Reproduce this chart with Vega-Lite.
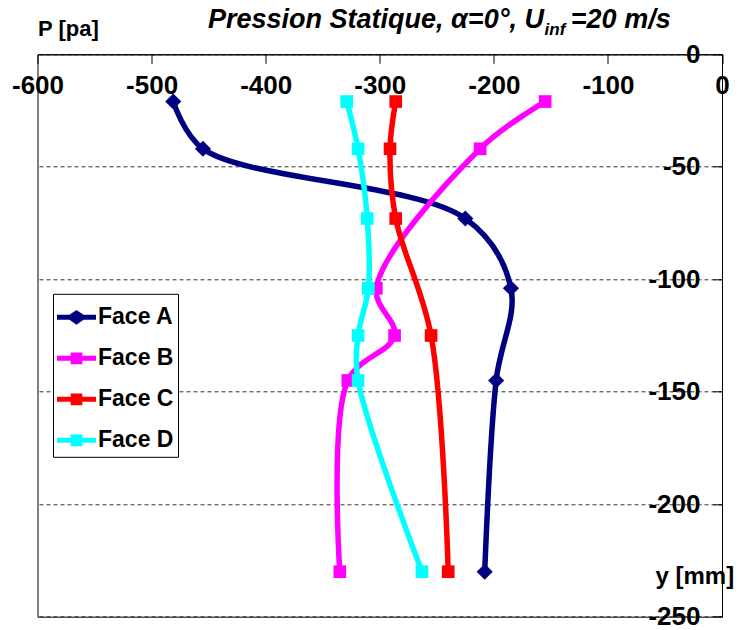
{
  "$schema": "https://vega.github.io/schema/vega-lite/v6.json",
  "width": 684.5,
  "height": 562.4,
  "autosize": {"type": "none"},
  "padding": {"left": 37.5, "top": 54.3, "right": 18, "bottom": 13.3},
  "background": "white",
  "config": {"view": {"stroke": "black", "strokeWidth": 1}, "font": "Liberation Sans"},
  "data": {"values": [
    {"face": "Face A", "y": -21, "p": -481},
    {"face": "Face A", "y": -42, "p": -455},
    {"face": "Face A", "y": -73, "p": -225},
    {"face": "Face A", "y": -104, "p": -185},
    {"face": "Face A", "y": -145, "p": -198},
    {"face": "Face A", "y": -230, "p": -208},
    {"face": "Face B", "y": -21, "p": -155},
    {"face": "Face B", "y": -42, "p": -212},
    {"face": "Face B", "y": -104, "p": -303},
    {"face": "Face B", "y": -125, "p": -287},
    {"face": "Face B", "y": -145, "p": -328},
    {"face": "Face B", "y": -230, "p": -335},
    {"face": "Face C", "y": -21, "p": -286},
    {"face": "Face C", "y": -42, "p": -291},
    {"face": "Face C", "y": -73, "p": -286},
    {"face": "Face C", "y": -125, "p": -255},
    {"face": "Face C", "y": -230, "p": -240},
    {"face": "Face D", "y": -21, "p": -329},
    {"face": "Face D", "y": -42, "p": -319},
    {"face": "Face D", "y": -73, "p": -311},
    {"face": "Face D", "y": -104, "p": -310},
    {"face": "Face D", "y": -125, "p": -319},
    {"face": "Face D", "y": -145, "p": -319},
    {"face": "Face D", "y": -230, "p": -263}
  ]},
  "layer": [
    {
      "mark": {"type": "line", "interpolate": "catmull-rom", "strokeWidth": 5.5},
      "encoding": {
        "x": {"field": "p", "type": "quantitative", "scale": {"domain": [-600, 0], "nice": false, "zero": false},
          "axis": {"orient": "top", "values": [-600, -500, -400, -300, -200, -100, 0], "labelExpr": "'' + datum.value",
            "title": "P [pa]", "titleX": 0, "titleY": -19, "titleAlign": "left", "titleAnchor": null, "titleBaseline": "alphabetic",
            "titleFontSize": 22, "titleFontWeight": "bold", "titleColor": "black", "titleFont": "Liberation Sans",
            "labelFontSize": 26, "labelFontWeight": "bold", "labelColor": "black", "labelFont": "Liberation Sans",
            "labelFlush": false, "labelOverlap": false, "labelPadding": -22, "labelBaseline": "middle",
            "tickSize": -9, "tickColor": "black", "domainColor": "black", "grid": false}},
        "y": {"field": "y", "type": "quantitative", "scale": {"domain": [-250, 0], "nice": false, "zero": false},
          "axis": {"orient": "right", "values": [0, -50, -100, -150, -200, -250], "labelExpr": "'' + datum.value",
            "title": "y [mm]", "titleX": -67, "titleY": 529, "titleAngle": 0, "titleAlign": "left", "titleBaseline": "alphabetic",
            "titleFontSize": 24, "titleFontWeight": "bold", "titleColor": "black", "titleFont": "Liberation Sans",
            "labelFontSize": 26, "labelFontWeight": "bold", "labelColor": "black", "labelFont": "Liberation Sans",
            "labelAlign": "right", "labelBaseline": "middle", "labelPadding": -13, "labelFlush": false, "labelOverlap": false,
            "tickSize": -9, "tickColor": "black", "domainColor": "black",
            "grid": true, "gridDash": [4, 3], "gridColor": "#333", "gridWidth": 1}},
        "color": {"field": "face", "type": "nominal",
          "scale": {"domain": ["Face A", "Face B", "Face C", "Face D"], "range": ["#000080", "#FF00FF", "#FF0000", "#00FFFF"]},
          "legend": {"orient": "none", "legendX": 15.5, "legendY": 239.5, "title": null, "padding": 4, "rowPadding": 9,
            "strokeColor": "black", "fillColor": "white", "labelFontSize": 23, "labelFontWeight": "bold", "labelColor": "black",
            "labelFont": "Liberation Sans", "labelOffset": 2, "labelLimit": 300, "symbolSize": 1521,
            "encode": {"symbols": {"update": {
              "shape": {"signal": "datum.value === 'Face A' ? 'M-1,-0.13H-0.36L0,-0.38L0.36,-0.13H1V0.13H0.36L0,0.38L-0.36,0.13H-1Z' : 'M-1,-0.13H-0.3V-0.3H0.3V-0.13H1V0.13H0.3V0.3H-0.3V0.13H-1Z'"},
              "fill": {"scale": "color", "field": "value"},
              "fillOpacity": {"value": 1},
              "strokeWidth": {"value": 0},
              "size": {"value": 1521}}}}}},
        "order": {"field": "y", "sort": "descending"}
      }
    },
    {
      "mark": {"type": "point", "filled": true, "opacity": 1},
      "encoding": {
        "x": {"field": "p", "type": "quantitative"},
        "y": {"field": "y", "type": "quantitative"},
        "color": {"field": "face", "type": "nominal"},
        "shape": {"condition": {"test": "datum.face === 'Face A'", "value": "diamond"}, "value": "square"},
        "size": {"condition": {"test": "datum.face === 'Face A'", "value": 260}, "value": 160}
      }
    },
    {
      "data": {"values": [{"t": "Pression Statique, α=0°, U"}]},
      "mark": {"type": "text", "align": "left", "baseline": "alphabetic", "fontSize": 27, "fontWeight": "bold", "fontStyle": "italic", "font": "Liberation Sans", "color": "black"},
      "encoding": {"x": {"datum": -450.5}, "y": {"datum": 11.7}, "text": {"field": "t"}}
    },
    {
      "data": {"values": [{"t": "inf"}]},
      "mark": {"type": "text", "align": "left", "baseline": "alphabetic", "fontSize": 17, "fontWeight": "bold", "fontStyle": "italic", "font": "Liberation Sans", "color": "black"},
      "encoding": {"x": {"datum": -155.5}, "y": {"datum": 8.6}, "text": {"field": "t"}}
    },
    {
      "data": {"values": [{"t": "=20 m/s"}]},
      "mark": {"type": "text", "align": "left", "baseline": "alphabetic", "fontSize": 27, "fontWeight": "bold", "fontStyle": "italic", "font": "Liberation Sans", "color": "black"},
      "encoding": {"x": {"datum": -132.5}, "y": {"datum": 11.7}, "text": {"field": "t"}}
    }
  ]
}
